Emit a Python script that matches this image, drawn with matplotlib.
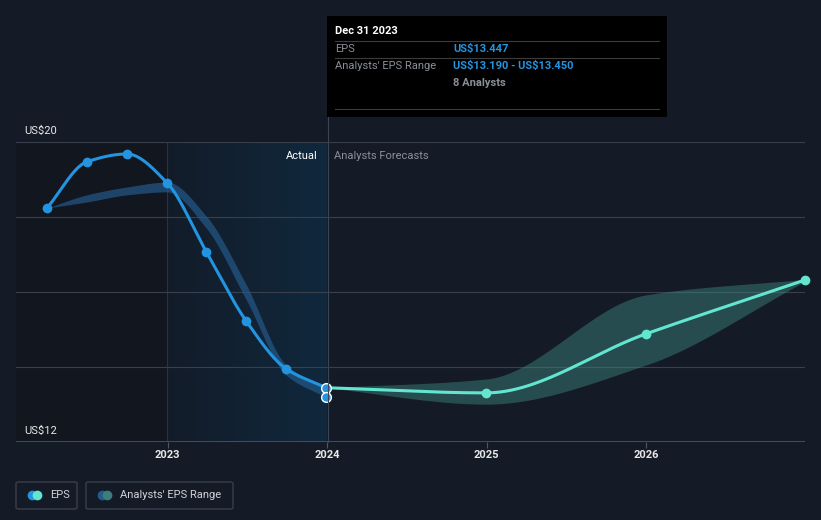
import numpy as np
import matplotlib
matplotlib.use("Agg")
import matplotlib.pyplot as plt
import matplotlib.dates as mdates
from matplotlib.patches import Rectangle, FancyBboxPatch
from matplotlib.colors import LinearSegmentedColormap
from datetime import date

plt.rcParams['font.family'] = ['Roboto', 'DejaVu Sans']
plt.rcParams['text.parse_math'] = False

# ---- data ----
past_dates = [date(2022, 3, 31), date(2022, 6, 30), date(2022, 9, 30), date(2022, 12, 31),
              date(2023, 3, 31), date(2023, 6, 30), date(2023, 9, 30), date(2023, 12, 31)]
past_eps = [18.24, 19.47, 19.68, 18.91, 17.07, 15.23, 13.95, 13.447]
past_low = [18.24, 18.40, 18.59, 18.67, 17.70, 15.80, 13.78, 13.19]
past_high = [18.24, 18.59, 18.80, 18.93, 18.02, 16.20, 14.05, 13.45]

fc_dates = [date(2023, 12, 31), date(2024, 12, 31), date(2025, 12, 31), date(2026, 12, 31)]
fc_eps = [13.447, 13.31, 14.88, 16.32]
fc_low = [13.447, 13.01, 14.05, 16.28]
fc_high = [13.447, 13.68, 15.92, 16.34]

year_ticks = [date(2023, 1, 1), date(2024, 1, 1), date(2025, 1, 1), date(2026, 1, 1)]
year_labels = ["2023", "2024", "2025", "2026"]

BG = "#151b26"
BLUE = "#2394df"
TEAL = "#63e6d0"


def monotone(x, y, n=200):
    # Fritsch-Carlson monotone cubic, like d3 curveMonotoneX
    x = np.asarray(x, float)
    y = np.asarray(y, float)
    h = np.diff(x)
    d = np.diff(y) / h
    m = np.zeros_like(y)
    m[0], m[-1] = d[0], d[-1]
    for i in range(1, len(y) - 1):
        if d[i - 1] * d[i] <= 0:
            m[i] = 0
        else:
            w1 = 2 * h[i] + h[i - 1]
            w2 = h[i] + 2 * h[i - 1]
            m[i] = (w1 + w2) / (w1 / d[i - 1] + w2 / d[i])
    xs, ys = [], []
    for i in range(len(h)):
        t = np.linspace(0, 1, n)
        h00 = 2 * t**3 - 3 * t**2 + 1
        h10 = t**3 - 2 * t**2 + t
        h01 = -2 * t**3 + 3 * t**2
        h11 = t**3 - t**2
        xs.append(x[i] + t * h[i])
        ys.append(h00 * y[i] + h10 * h[i] * m[i] + h01 * y[i + 1] + h11 * h[i] * m[i + 1])
    return np.concatenate(xs), np.concatenate(ys)


W, H = 821, 520
fig = plt.figure(figsize=(W / 100, H / 100), dpi=100, facecolor=BG)
ax = fig.add_axes([16 / W, 1 - 442 / H, (805 - 16) / W, 300 / H])
ax.set_facecolor(BG)

px = mdates.date2num(past_dates)
fx = mdates.date2num(fc_dates)
x0 = mdates.date2num(date(2022, 1, 19))
x1 = mdates.date2num(date(2026, 12, 31))
xa = mdates.date2num(date(2022, 12, 31))
ax.set_xlim(x0, x1)
ax.set_ylim(12, 20)

# darker history region and gradient "Actual" region
ax.add_patch(Rectangle((x0, 12), xa - x0, 8, color="#12161f", lw=0, zorder=0))
cmap = LinearSegmentedColormap.from_list("g", ["#131c29", "#10283d"])
ax.imshow(np.linspace(0, 1, 256).reshape(1, -1), cmap=cmap, aspect="auto",
          extent=[xa, px[-1], 12, 20], zorder=0.5)
ax.axvline(xa, color="#1f3650", lw=0.8, zorder=1)

for v in [14, 16, 18, 20]:
    ax.axhline(v, color="#3a404b", lw=0.8, zorder=1)
ax.axhline(12, color="#50555f", lw=1.2, zorder=1)

# bands
bx, bl = monotone(px, past_low)
_, bh = monotone(px, past_high)
ax.fill_between(bx, bl, bh, color="#24598a", alpha=0.7, lw=0, zorder=2)
fxx, fl = monotone(fx, fc_low)
_, fh = monotone(fx, fc_high)
ax.fill_between(fxx, fl, fh, color="#3d8a82", alpha=0.45, lw=0, zorder=2)

# lines
lx, ly = monotone(px, past_eps)
ax.plot(lx, ly, color=BLUE, lw=2.2, zorder=3, solid_capstyle="round")
ax.plot(px[:-1], past_eps[:-1], "o", color=BLUE, ms=6, zorder=4)
gx, gy = monotone(fx, fc_eps)
ax.plot(gx, gy, color=TEAL, lw=2.2, zorder=3, solid_capstyle="round")
ax.plot(fx[1:], fc_eps[1:], "o", color=TEAL, ms=6, zorder=4, clip_on=False)
ax.plot(px[-1], past_eps[-1], "o", color=BLUE, ms=7, mec="white", mew=1, zorder=5)
ax.plot(px[-1], past_low[-1], "o", color=BLUE, ms=7, mec="white", mew=1, zorder=5)

for s in ax.spines.values():
    s.set_visible(False)
ax.set_yticks([])
ax.set_xticks(mdates.date2num(year_ticks))
ax.set_xticklabels(year_labels, color="#e8e8e8", fontsize=8, fontweight="bold")
ax.tick_params(axis="x", length=4, color="#50555f", pad=2)

ax.text(x0 + 18, 20.15, "US$20", color="#e8e8e8", fontsize=8, va="bottom", ha="left")
ax.text(x0 + 18, 12.15, "US$12", color="#e8e8e8", fontsize=8, va="bottom", ha="left")
ax.text(px[-1] - 20, 19.62, "Actual", color="#ffffff", fontsize=8, ha="right", va="center")
ax.text(px[-1] + 18, 19.62, "Analysts Forecasts", color="#8a8f98", fontsize=8, ha="left", va="center")

# tooltip line and box (figure pixel coords)
def fxp(v):
    return v / W

def fyp(v):
    return 1 - v / H

fig.add_artist(plt.Line2D([fxp(327.5), fxp(327.5)], [fyp(117), fyp(442)], color="#3a4656", lw=0.8))
fig.add_artist(Rectangle((fxp(327), fyp(117)), fxp(340), 101 / H, color="#000000", lw=0))
fig.text(fxp(335), fyp(31), "Dec 31 2023", color="#ffffff", fontsize=8, va="center", fontweight="bold")
for yy in [41, 58, 109]:
    fig.add_artist(plt.Line2D([fxp(335), fxp(659)], [fyp(yy), fyp(yy)], color="#3c3c3c", lw=0.8))
fig.text(fxp(335), fyp(49), "EPS", color="#8a8f98", fontsize=8, va="center")
fig.text(fxp(453), fyp(49), "US$13.447", color=BLUE, fontsize=8, va="center", fontweight="bold")
fig.text(fxp(335), fyp(66), "Analysts' EPS Range", color="#8a8f98", fontsize=8, va="center")
fig.text(fxp(453), fyp(66), "US$13.190 - US$13.450", color=BLUE, fontsize=8, va="center", fontweight="bold")
fig.text(fxp(453), fyp(83), "8 Analysts", color="#8a8f98", fontsize=8, va="center", fontweight="bold")

# legend
def legend_box(xl, xr, c1, c2, label):
    fig.add_artist(FancyBboxPatch((fxp(xl), fyp(509)), fxp(xr - xl), 27 / H,
                                  boxstyle="round,pad=0,rounding_size=0.003",
                                  fc="none", ec="#3a3f4a", lw=1))
    fig.add_artist(plt.Line2D([fxp(xl + 16)], [fyp(495)], marker="o", ms=7, color=c1, mew=0))
    fig.add_artist(plt.Line2D([fxp(xl + 21)], [fyp(495)], marker="o", ms=7, color=c2, mew=0))
    fig.text(fxp(xl + 34), fyp(495), label, color="#d0d2d6", fontsize=8, va="center")

legend_box(16, 77, BLUE, TEAL, "EPS")
legend_box(86, 233, "#225c8a", "#3b7f7a", "Analysts' EPS Range")

fig.savefig("out.png", dpi=100, facecolor=BG)
